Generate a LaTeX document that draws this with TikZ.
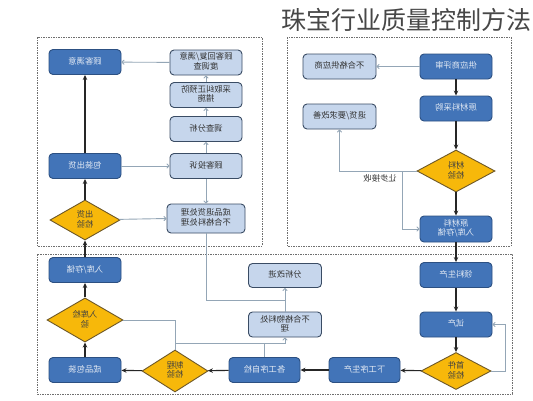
\documentclass[tikz,border=0pt]{standalone}
\usepackage{fontspec}
\usepackage{graphicx}
\newfontfamily\cjk{Noto Sans CJK SC}
\usetikzlibrary{arrows.meta,shapes.geometric}
\definecolor{dkfill}{RGB}{66,116,184}
\definecolor{dkline}{RGB}{44,80,130}
\definecolor{ltfill}{RGB}{198,214,236}
\definecolor{ltline}{RGB}{58,76,100}
\definecolor{diafill}{RGB}{247,184,10}
\definecolor{dialine}{RGB}{110,88,40}
\definecolor{grl}{RGB}{148,166,182}
\definecolor{frm}{RGB}{110,110,110}
\newcommand\mt[1]{\reflectbox{\renewcommand\arraystretch{0.9}\begin{tabular}{@{}c@{}}#1\end{tabular}}}
\tikzset{
  base/.style={line width=0.9pt, rounded corners=4pt, minimum width=72pt, minimum height=25pt, inner sep=1pt, font=\cjk\fontsize{8.3}{9.6}\selectfont},
  dk/.style={base, draw=dkline, fill=dkfill, text=white!85!dkfill},
  lt/.style={base, draw=ltline, fill=ltfill, text=black!80},
  dia/.style={diamond, draw=dialine, fill=diafill, line width=0.9pt, minimum width=70pt, minimum height=40pt, inner sep=0pt, font=\cjk\fontsize{8.3}{9.6}\selectfont, text=black!75},
  blk/.style={draw=black!85, line width=1.1pt, -{Stealth[length=5pt,width=4.5pt]}},
  gry/.style={draw=grl, line width=0.9pt, -{To[length=3pt,width=5pt]}},
  gryline/.style={draw=grl, line width=0.9pt},
  frame/.style={draw=frm, line width=0.8pt, dash pattern=on 2pt off 1.2pt on 0.6pt off 1.2pt},
}
\begin{document}
\begin{tikzpicture}[x=1pt,y=-1pt]
\useasboundingbox[fill=white] (0,0) rectangle (533,400);
% frames
\draw[frame] (37,37) rectangle (262,246);
\draw[frame] (287,37) rectangle (511,246);
\draw[frame] (37,254) rectangle (512,394);
% title
\node[font=\cjk\fontsize{25}{27}\selectfont, text=black!72, anchor=east, inner sep=0pt] (title) at (532,20) {珠宝行业质量控制方法};
% top-left block
\node[dk] (gkmy) at (85,62) {\mt{顾客满意}};
\node[lt] (gkhf) at (206,62.5) {\mt{顾客回复/满意\\度调查}};
\node[lt] (cqjz) at (206,95) {\mt{采取纠正预防\\措施}};
\node[lt] (dcfx) at (206,129) {\mt{调查分析}};
\node[lt] (gkts) at (206,166) {\mt{顾客投诉}};
\node[dk] (bzch) at (85,166) {\mt{包装出货}};
\node[dia] (chjy) at (85,220) {\mt{出货\\检验}};
\node[lt, minimum width=78pt, minimum height=29pt] (cthz) at (206,218.5) {\mt{成品退货处理\\不合格料处理}};
% top-right block
\node[dk] (gyps) at (456,66.5) {\mt{供应商评审}};
\node[lt, minimum width=73pt] (bhgs) at (339.5,66.5) {\mt{不合格供应商}};
\node[dk] (yccg) at (456,108.5) {\mt{原材料采购}};
\node[lt, minimum width=73pt] (thgs) at (339.5,116.5) {\mt{退货/要求改善}};
\node[dia, minimum width=78pt, minimum height=42pt] (cljy) at (456,171) {\mt{材料\\检验}};
\node[dk, minimum height=26pt] (ycl) at (456,229) {\mt{原材料\\入库/存储}};
% bottom block
\node[dk] (llsc) at (456,275) {\mt{领料生产}};
\node[dk] (sc) at (456,324.5) {\mt{试产}};
\node[dia, minimum width=70pt, minimum height=37pt] (sjjy) at (456,371) {\mt{首件\\检验}};
\node[dk, minimum width=71pt] (xgx) at (364.5,370) {\mt{下工序生产}};
\node[dk, minimum width=71pt] (gxzj) at (264.5,370) {\mt{各工序自检}};
\node[dia, minimum width=66pt, minimum height=42pt] (zcjy) at (175,371) {\mt{制程\\检验}};
\node[dk] (cpbz) at (85,370) {\mt{成品包装}};
\node[dia, minimum width=76pt, minimum height=34pt] (rkjy) at (85,320) {\mt{入库检\\验}};
\node[dk] (rkcc) at (85,270) {\mt{入库/存储}};
\node[lt, minimum width=73pt, minimum height=24pt] (fxgj) at (285,275.5) {\mt{分析改进}};
\node[lt, minimum width=73pt] (bhg) at (285,324.5) {\mt{不合格物料处\\理}};
\node[font=\cjk\fontsize{8.3}{9.6}\selectfont, text=black!80, inner sep=0pt] (rbjs) at (380,179) {\mt{让步接收}};
% black flow
\draw[blk] (chjy) -- (bzch);
\draw[blk] (bzch) -- (gkmy);
\draw[blk] (gyps) -- (yccg);
\draw[blk] (yccg) -- (cljy);
\draw[blk] (cljy) -- (ycl);
\draw[blk] (ycl) -- (llsc);
\draw[blk] (llsc) -- (sc);
\draw[blk] (sc) -- (sjjy);
\draw[blk] (sjjy) -- (xgx);
\draw[blk] (xgx) -- (gxzj);
\draw[blk] (gxzj) -- (zcjy);
\draw[blk] (zcjy) -- (cpbz);
\draw[blk] (cpbz) -- (rkjy);
\draw[blk] (rkjy) -- (rkcc);
\draw[blk] (rkcc) -- (chjy);
% grey flow
\draw[gry] (bzch) -- (gkts);
\draw[gry] (gkts) -- (dcfx);
\draw[gry] (dcfx) -- (cqjz);
\draw[gry] (cqjz) -- (gkhf);
\draw[gry] (gkhf) -- (gkmy);
\draw[gry] (chjy) -- (cthz.west);
\draw[gry] (gkts) -- (cthz);
\draw[gry] (gyps) -- (bhgs);
\draw[gry] (cljy.west) -| (thgs.south);
\coordinate (j3) at (402,171);
\draw[gry] (j3) |- (ycl.west);
\draw[gry] (sjjy.east) -- ++(14,0) |- (sc.east);
\coordinate (j1) at (285,300);
\draw[gryline] (cthz.south) |- (j1);
\draw[gry] (bhg) -- (fxgj);
\coordinate (j2) at (175,343);
\draw[gryline] (rkjy.east) -| (j2);
\draw[gryline] (zcjy.north) -- (j2);
\draw[gryline] (gxzj.north) -- (gxzj.north |- j2);
\draw[gry] (j2) -| (bhg.south);
\end{tikzpicture}
\end{document}
